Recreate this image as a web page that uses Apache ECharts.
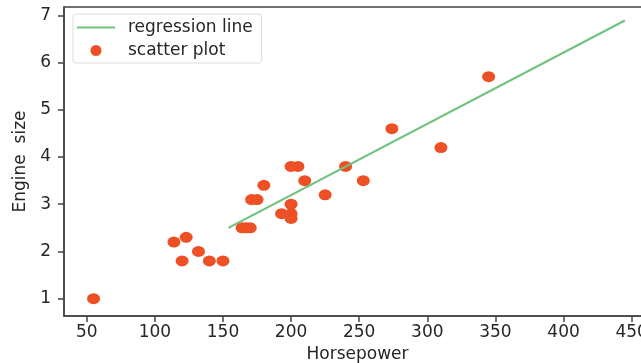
<!DOCTYPE html>
<html>
<head>
<meta charset="utf-8">
<script src="https://cdn.jsdelivr.net/npm/echarts@6/dist/echarts.min.js"></script>
<style>
  html, body { margin: 0; padding: 0; background: #fff; }
  #chart { width: 641px; height: 363px; }
</style>
</head>
<body>
<div id="chart"></div>
<script>
// scatter points (horsepower vs engine size)
const horsepower = [55, 114, 120, 123, 132, 140, 150, 164, 167, 170, 171, 175, 180, 193, 200, 200, 200, 200, 205, 210, 225, 240, 253, 274, 310, 345];
const engineSize = [1.0, 2.2, 1.8, 2.3, 2.0, 1.8, 1.8, 2.5, 2.5, 2.5, 3.1, 3.1, 3.4, 2.8, 2.8, 2.7, 3.0, 3.8, 3.8, 3.5, 3.2, 3.8, 3.5, 4.6, 4.2, 5.7];

// fitted line end points
const lineX = [154, 445];
const lineY = [2.5, 6.89];

const xTicks = [50, 100, 150, 200, 250, 300, 350, 400, 450];
const yTicks = [1, 2, 3, 4, 5, 6, 7];

const FONT = 'DejaVu Sans';
const FS = 17;
const TEXT = '#262626';
const SPINE = '#444';
const GREEN = '#70c27e';

const chart = echarts.init(document.getElementById('chart'));

const axisCommon = {
  axisLine: { show: true, onZero: false, lineStyle: { color: SPINE, width: 1.5 } },
  axisTick: { show: true, inside: false, length: 6, lineStyle: { color: SPINE, width: 1.5 } },
  splitLine: { show: false },
  nameTextStyle: { fontFamily: FONT, fontSize: FS, color: TEXT },
};

chart.setOption({
  animation: false,
  backgroundColor: '#fff',
  grid: {
    left: 64, top: 7, right: -10, bottom: 47,
    containLabel: false, outerBoundsMode: 'none',
    show: true, borderColor: SPINE, borderWidth: 1.5, backgroundColor: 'transparent',
  },
  legend: {
    left: 73, top: 14,
    orient: 'vertical',
    padding: [5, 9, 4, 4],
    itemWidth: 38, itemHeight: 11, itemGap: 6,
    borderColor: '#ddd', borderWidth: 1, borderRadius: 3,
    backgroundColor: 'rgba(255,255,255,0.85)',
    textStyle: { fontFamily: FONT, fontSize: FS, color: TEXT, lineHeight: 14, padding: [0, 0, 0, 8] },
    data: [
      { name: 'regression line', icon: 'path://M0,0L38,0L38,2.2L0,2.2Z', itemStyle: { color: GREEN } },
      { name: 'scatter plot', icon: 'circle' },
    ],
  },
  xAxis: {
    ...axisCommon,
    type: 'value',
    min: 33.3, max: 464.2,
    name: 'Horsepower', nameLocation: 'middle', nameGap: 26,
    axisTick: { ...axisCommon.axisTick, customValues: xTicks },
    axisLabel: { fontFamily: FONT, fontSize: FS, color: TEXT, margin: 8, customValues: xTicks },
  },
  yAxis: {
    ...axisCommon,
    type: 'value',
    min: 0.634, max: 7.176,
    name: 'Engine  size', nameLocation: 'middle', nameGap: 34, nameRotate: 90,
    axisTick: { ...axisCommon.axisTick, customValues: yTicks },
    axisLabel: { fontFamily: FONT, fontSize: FS, color: TEXT, margin: 13, customValues: yTicks },
  },
  series: [
    {
      name: 'regression line',
      type: 'line',
      symbol: 'none',
      lineStyle: { color: GREEN, width: 2.2 },
      itemStyle: { color: GREEN },
      data: lineX.map((x, i) => [x, lineY[i]]),
      z: 3,
    },
    {
      name: 'scatter plot',
      type: 'scatter',
      symbol: 'circle',
      symbolSize: [13, 11],
      itemStyle: { color: '#ec5024', opacity: 1 },
      data: horsepower.map((x, i) => [x, engineSize[i]]),
      z: 2,
    },
  ],
});
</script>
</body>
</html>
